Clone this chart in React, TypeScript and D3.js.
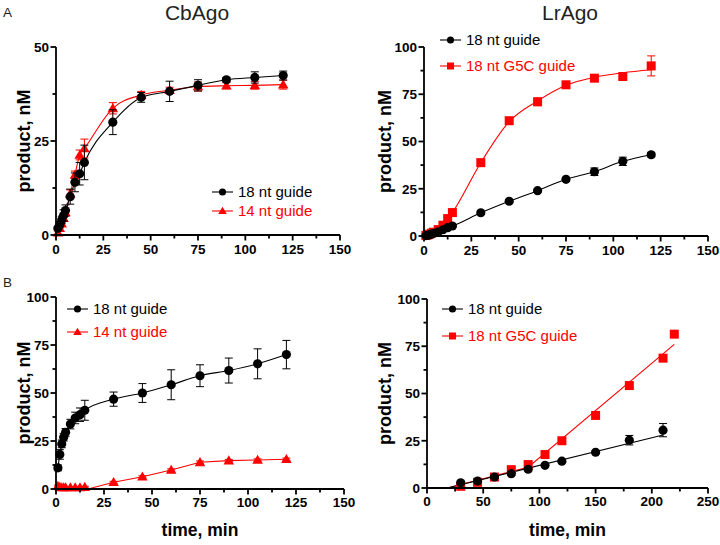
import React from "react";
import * as d3 from "d3";

const FONT = '"Liberation Sans", Arial, Helvetica, sans-serif';
const RED = "#ff0000";
const BLACK = "#000000";

// ---------- Panel A left: CbAgo (short time course) ----------
const cbShortTime = [1, 2, 3, 4, 5, 7.5, 10, 12.5, 15, 30, 45, 60, 75, 90, 105, 120];
const cbShort18 = [1.8, 2.7, 4, 5.2, 6.5, 10.2, 14, 16.3, 19.3, 30, 36.6, 38.2, 39.8, 41.3, 41.9, 42.4];
const cbShort18Err = [0.5, 0.8, 1, 1.5, 1.5, 2, 2.5, 3, 4.6, 3.3, 1.3, 2.7, 1.5, 0.6, 1.5, 1.2];
const cbShort14 = [0.6, 1.8, 3, 4.5, 6, 11, 16, 21.3, 23, 33.7, 37.2, 38.5, 39.5, 39.7, 39.8, 40];
const cbShort14Err = [0.5, 0.6, 0.6, 0.8, 0.8, 1, 1, 1.3, 2.5, 1.5, 1, 0.8, 1.2, 0.8, 1, 1.2];

// ---------- Panel A right: LrAgo (short time course) ----------
const lrShortTime = [1, 2, 3, 4, 5, 7.5, 10, 12.5, 15, 30, 45, 60, 75, 90, 105, 120];
const lrShort18 = [0.2, 0.4, 0.7, 1, 1.4, 2.2, 3.3, 4.4, 5.3, 12.3, 18.4, 24, 30, 34, 39.5, 43];
const lrShort18Err = [0.3, 0.3, 0.3, 0.3, 0.3, 0.4, 0.5, 0.5, 0.6, 0.8, 0.8, 0.8, 1, 2, 2.2, 1.2];
const lrShortG5C = [0.3, 0.6, 1, 1.5, 2, 3.4, 5.7, 9.2, 12.4, 38.8, 61, 71, 80, 83.5, 84.4, 90];
const lrShortG5CErr = [0.3, 0.3, 0.3, 0.4, 0.4, 0.6, 0.8, 1, 1.5, 1.5, 1.5, 2, 1, 1.5, 1.5, 5.3];
// fitted sigmoid curve
const lrShortG5CFitT = [0, 5, 10, 15, 30, 45, 60, 75, 90, 105, 120];
const lrShortG5CFitY = [0, 2, 5.7, 12.4, 38.8, 60.5, 71.5, 79.8, 84, 86.4, 88];

// ---------- Panel B left: CbAgo (long time course) ----------
const cbLongTime = [1, 2, 3, 4, 5, 7.5, 10, 12.5, 15, 30, 45, 60, 75, 90, 105, 120];
const cbLong18 = [11, 18, 23.5, 27, 29.5, 33.8, 37, 38.7, 41, 46.8, 50, 54.3, 59, 61.7, 65.2, 70];
const cbLong18Err = [1.5, 2.5, 2, 2, 2, 2.5, 3, 3.5, 5.2, 3.7, 4.9, 7.8, 5.7, 6.5, 7.8, 7.4];
const cbLong14 = [1.5, 1, 0.8, 0.8, 0.8, 0.8, 0.8, 0.8, 1, 3.5, 6.4, 9.9, 13.9, 14.8, 15.1, 15.5];
const cbLong14Err = [0.5, 0.4, 0.3, 0.3, 0.3, 0.3, 0.3, 0.3, 0.4, 0.5, 0.5, 0.6, 0.7, 0.6, 0.6, 0.6];
// lag-phase fit line
const cbLong14FitT = [0, 15, 16.7, 30, 45, 60, 75, 90, 105, 120];
const cbLong14FitY = [1, 0.8, 0, 3.5, 6.4, 9.9, 13.9, 14.8, 15.1, 15.5];

// ---------- Panel B right: LrAgo (long time course) ----------
const lrLong18Time = [30, 45, 60, 75, 90, 105, 120, 150, 180, 210];
const lrLong18 = [2.8, 3.7, 5.8, 7.6, 9.9, 12, 14.2, 18.9, 25.3, 30.6];
const lrLong18Err = [0.8, 0.8, 0.8, 0.8, 0.8, 0.8, 0.8, 0.8, 2.5, 3.5];
const lrLongG5CTime = [30, 45, 60, 75, 90, 105, 120, 150, 180, 210, 220];
const lrLongG5C = [0.9, 3, 5.8, 9.7, 12.4, 17.7, 25, 38.4, 54.2, 68.7, 81.4];
const lrLongG5CErr = [0.5, 0.5, 0.5, 0.8, 0.8, 1.5, 0.8, 1, 1.5, 1, 0.8];
// linear fit lines (time, product)
const lrLong18FitT = [18, 210];
const lrLong18FitY = [0, 28];
const lrLongG5CFitT = [18, 90, 220];
const lrLongG5CFitY = [0, 11, 76];

// ---------- ticks ----------
const xTicks150 = [0, 25, 50, 75, 100, 125, 150];
const xMinor150 = [12.5, 37.5, 62.5, 87.5, 112.5, 137.5];
const xTicks250 = [0, 50, 100, 150, 200, 250];
const xMinor250 = [25, 75, 125, 175, 225];
const yTicks50 = [0, 25, 50];
const yMinor50 = [12.5, 37.5];
const yTicks100 = [0, 25, 50, 75, 100];
const yMinor100 = [12.5, 37.5, 62.5, 87.5];

type Shape = "circle" | "square" | "triangle";

interface Series {
  t: number[];
  y: number[];
  err: number[];
  color: string;
  shape: Shape;
  label: string;
  fitT?: number[];
  fitY?: number[];
  curve?: "smooth" | "linear";
}

interface PanelProps {
  xRange: [number, number];
  yRange: [number, number];
  xMax: number;
  yMax: number;
  xTicks: number[];
  xMinor: number[];
  yTicks: number[];
  yMinor: number[];
  series: Series[];
  legendX: number;
  legendY: number[];
  legendLineLen: number;
  title?: string;
  titleX?: number;
  ylabelX: number;
  xlabel?: boolean;
  xTickLabelDy: number;
}

function symbolPath(shape: Shape, size: number) {
  const t = shape === "circle" ? d3.symbolCircle : shape === "square" ? d3.symbolSquare : d3.symbolTriangle;
  return d3.symbol().type(t).size(size)() as string;
}

const markerSize: Record<Shape, number> = { circle: 66, square: 81, triangle: 48 };
const legendSize: Record<Shape, number> = { circle: 40, square: 49, triangle: 32 };

function Panel(p: PanelProps) {
  const x = d3.scaleLinear().domain([0, p.xMax]).range(p.xRange);
  const y = d3.scaleLinear().domain([0, p.yMax]).range(p.yRange);
  const x0 = p.xRange[0];
  const y0 = p.yRange[0];
  const drawOrder = [...p.series].reverse();
  return (
    <g>
      {p.title && (
        <text x={p.titleX} y={20} textAnchor="middle" fontSize={21} fill="#231f20" fontFamily={FONT}>
          {p.title}
        </text>
      )}
      {/* fit lines */}
      {drawOrder.map((s, i) => {
        const ft = s.fitT ?? s.t;
        const fy = s.fitY ?? s.y;
        const pts = ft.map((t, k) => [t, fy[k]] as [number, number]);
        const line = d3
          .line<[number, number]>()
          .x((d) => x(d[0]))
          .y((d) => y(d[1]))
          .curve(s.curve === "linear" ? d3.curveLinear : d3.curveMonotoneX);
        return <path key={"f" + i} d={line(pts) as string} fill="none" stroke={s.color} strokeWidth={1.1} />;
      })}
      {/* error bars + markers */}
      {drawOrder.map((s, i) => (
        <g key={"s" + i}>
          {s.t.map((t, k) => {
            const cx = x(t);
            const hi = y(s.y[k] + s.err[k]);
            const lo = y(Math.max(0, s.y[k] - s.err[k]));
            return (
              <g key={k}>
                <line x1={cx} x2={cx} y1={hi} y2={lo} stroke={s.color} strokeWidth={1} />
                <line x1={cx - 4} x2={cx + 4} y1={hi} y2={hi} stroke={s.color} strokeWidth={1} />
                <line x1={cx - 4} x2={cx + 4} y1={lo} y2={lo} stroke={s.color} strokeWidth={1} />
              </g>
            );
          })}
          {s.t.map((t, k) => (
            <path
              key={"m" + k}
              d={symbolPath(s.shape, markerSize[s.shape])}
              transform={`translate(${x(t)},${y(s.y[k]) + (s.shape === "triangle" ? 0.8 : 0)})`}
              fill={s.color}
            />
          ))}
        </g>
      ))}
      {/* axes */}
      <line x1={x0} x2={x(p.xMax)} y1={y0} y2={y0} stroke={BLACK} strokeWidth={1.8} />
      <line x1={x0} x2={x0} y1={y0 + 0.9} y2={y(p.yMax)} stroke={BLACK} strokeWidth={1.8} />
      {p.xTicks.map((t) => (
        <g key={"xt" + t}>
          <line x1={x(t)} x2={x(t)} y1={y0} y2={y0 + 5.5} stroke={BLACK} strokeWidth={1.8} />
          <text x={x(t)} y={y0 + p.xTickLabelDy} textAnchor="middle" fontSize={13.5} fontWeight="bold" fontFamily={FONT}>
            {t}
          </text>
        </g>
      ))}
      {p.xMinor.map((t) => (
        <line key={"xm" + t} x1={x(t)} x2={x(t)} y1={y0} y2={y0 + 3.5} stroke={BLACK} strokeWidth={1.8} />
      ))}
      {p.yTicks.map((v) => (
        <g key={"yt" + v}>
          <line x1={x0 - 5.5} x2={x0} y1={y(v)} y2={y(v)} stroke={BLACK} strokeWidth={1.8} />
          <text x={x0 - 7} y={y(v) + 4.8} textAnchor="end" fontSize={13.5} fontWeight="bold" fontFamily={FONT}>
            {v}
          </text>
        </g>
      ))}
      {p.yMinor.map((v) => (
        <line key={"ym" + v} x1={x0 - 3.5} x2={x0} y1={y(v)} y2={y(v)} stroke={BLACK} strokeWidth={1.8} />
      ))}
      {/* y label */}
      <text
        transform={`translate(${p.ylabelX},${(p.yRange[0] + p.yRange[1]) / 2}) rotate(-90)`}
        textAnchor="middle"
        fontSize={18}
        fontWeight="bold"
        fontFamily={FONT}
      >
        product, nM
      </text>
      {p.xlabel && (
        <text x={(p.xRange[0] + p.xRange[1]) / 2} y={536} textAnchor="middle" fontSize={17.5} fontWeight="bold" fontFamily={FONT}>
          time, min
        </text>
      )}
      {/* legend */}
      {p.series.map((s, i) => (
        <g key={"lg" + i}>
          <line
            x1={p.legendX}
            x2={p.legendX + p.legendLineLen}
            y1={p.legendY[i]}
            y2={p.legendY[i]}
            stroke={s.color}
            strokeWidth={1.1}
          />
          <path
            d={symbolPath(s.shape, legendSize[s.shape])}
            transform={`translate(${p.legendX + p.legendLineLen / 2},${p.legendY[i] + (s.shape === "triangle" ? 0.6 : 0)})`}
            fill={s.color}
          />
          <text x={p.legendX + p.legendLineLen + 5} y={p.legendY[i] + 5.3} fontSize={15} fill={s.color} fontFamily={FONT}>
            {s.label}
          </text>
        </g>
      ))}
    </g>
  );
}

export default function App() {
  const sA1: Series[] = [
    { t: cbShortTime, y: cbShort18, err: cbShort18Err, color: BLACK, shape: "circle", label: "18 nt guide" },
    { t: cbShortTime, y: cbShort14, err: cbShort14Err, color: RED, shape: "triangle", label: "14 nt guide" },
  ];
  const sA2: Series[] = [
    { t: lrShortTime, y: lrShort18, err: lrShort18Err, color: BLACK, shape: "circle", label: "18 nt guide" },
    {
      t: lrShortTime, y: lrShortG5C, err: lrShortG5CErr, color: RED, shape: "square", label: "18 nt G5C guide",
      fitT: lrShortG5CFitT, fitY: lrShortG5CFitY,
    },
  ];
  const sB1: Series[] = [
    { t: cbLongTime, y: cbLong18, err: cbLong18Err, color: BLACK, shape: "circle", label: "18 nt guide" },
    {
      t: cbLongTime, y: cbLong14, err: cbLong14Err, color: RED, shape: "triangle", label: "14 nt guide",
      fitT: cbLong14FitT, fitY: cbLong14FitY, curve: "linear",
    },
  ];
  const sB2: Series[] = [
    {
      t: lrLong18Time, y: lrLong18, err: lrLong18Err, color: BLACK, shape: "circle", label: "18 nt guide",
      fitT: lrLong18FitT, fitY: lrLong18FitY, curve: "linear",
    },
    {
      t: lrLongG5CTime, y: lrLongG5C, err: lrLongG5CErr, color: RED, shape: "square", label: "18 nt G5C guide",
      fitT: lrLongG5CFitT, fitY: lrLongG5CFitY, curve: "linear",
    },
  ];
  return (
    <svg
      width={720}
      height={545}
      viewBox="0 0 720 545"
      style={{ position: "absolute", left: 0, top: 0, background: "#fff" }}
      fontFamily={FONT}
    >
      <rect x={0} y={0} width={720} height={545} fill="#fff" />
      <text x={3} y={17} fontSize={13.5} fill="#231f20" fontFamily={FONT}>A</text>
      <text x={3} y={287} fontSize={13.5} fill="#231f20" fontFamily={FONT}>B</text>
      <Panel
        xRange={[56, 340]} yRange={[235, 47]} xMax={150} yMax={50}
        xTicks={xTicks150} xMinor={xMinor150} yTicks={yTicks50} yMinor={yMinor50}
        series={sA1} legendX={212} legendY={[192, 211]} legendLineLen={21}
        title="CbAgo" titleX={197} ylabelX={30} xTickLabelDy={19}
      />
      <Panel
        xRange={[424, 708]} yRange={[236, 47]} xMax={150} yMax={100}
        xTicks={xTicks150} xMinor={xMinor150} yTicks={yTicks100} yMinor={yMinor100}
        series={sA2} legendX={440} legendY={[40, 66]} legendLineLen={21}
        title="LrAgo" titleX={570} ylabelX={391} xTickLabelDy={19}
      />
      <Panel
        xRange={[56, 344]} yRange={[489, 297]} xMax={150} yMax={100}
        xTicks={xTicks150} xMinor={xMinor150} yTicks={yTicks100} yMinor={yMinor100}
        series={sB1} legendX={67} legendY={[309, 332]} legendLineLen={21}
        ylabelX={30} xlabel xTickLabelDy={18}
      />
      <Panel
        xRange={[427, 708]} yRange={[488, 299]} xMax={250} yMax={100}
        xTicks={xTicks250} xMinor={xMinor250} yTicks={yTicks100} yMinor={yMinor100}
        series={sB2} legendX={442} legendY={[309, 336]} legendLineLen={21}
        ylabelX={391} xlabel xTickLabelDy={18}
      />
    </svg>
  );
}
